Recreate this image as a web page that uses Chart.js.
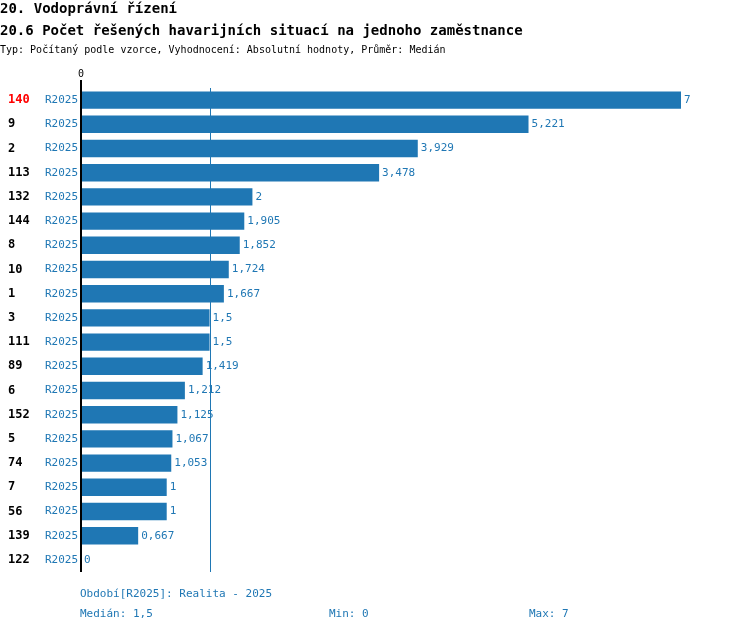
<!DOCTYPE html>
<html>
<head>
<meta charset="utf-8">
<script src="https://cdn.jsdelivr.net/npm/chart.js@4"></script>
<style>
  body { margin: 0; background: #fff; font-family: "DejaVu Sans Mono", monospace; }
  #wrap { position: relative; width: 750px; height: 632px; }
  canvas { position: absolute; left: 0; top: 0; }
  .t { position: absolute; white-space: nowrap; }
  .h { font-size: 14px; font-weight: bold; color: #000; }
  .s { font-size: 10px; color: #000; }
  .f { font-size: 11px; color: #1f77b4; }
</style>
</head>
<body>
<div id="wrap">
  <canvas id="myChart" width="750" height="632"></canvas>
  <div class="t h" style="left:0;top:0px">20. Vodoprávní řízení</div>
  <div class="t h" style="left:0;top:22px">20.6 Počet řešených havarijních situací na jednoho zaměstnance</div>
  <div class="t s" style="left:0;top:44px">Typ: Počítaný podle vzorce, Vyhodnocení: Absolutní hodnoty, Průměr: Medián</div>
  <div class="t f" style="left:80px;top:587px">Období[R2025]: Realita - 2025</div>
  <div class="t f" style="left:80px;top:607px">Medián: 1,5</div>
  <div class="t f" style="left:329px;top:607px">Min: 0</div>
  <div class="t f" style="left:529px;top:607px">Max: 7</div>
</div>
<script>
var codes = ['140','9','2','113','132','144','8','10','1','3','111','89','6','152','5','74','7','56','139','122'];
var period = 'R2025';
var values = [7, 5.221, 3.929, 3.478, 2, 1.905, 1.852, 1.724, 1.667, 1.5, 1.5, 1.419, 1.212, 1.125, 1.067, 1.053, 1, 1, 0.667, 0];
var highlight = '140';
var median = 1.5;
var xMin = 0, xMax = 7;

var blue = '#1f77b4';
var mono = '"DejaVu Sans Mono", monospace';

var labelsPlugin = {
  id: 'labels',
  afterDatasetsDraw: function (chart) {
    var c = chart.ctx, x = chart.scales.x, y = chart.scales.y, a = chart.chartArea;
    c.save();
    // median line
    var mx = Math.round(x.getPixelForValue(median)) + 0.5;
    c.strokeStyle = blue; c.lineWidth = 1;
    c.beginPath(); c.moveTo(mx, a.top); c.lineTo(mx, a.bottom); c.stroke();
    // axis line
    var zx = x.getPixelForValue(0);
    c.strokeStyle = '#000'; c.lineWidth = 2;
    c.beginPath(); c.moveTo(zx, a.top - 8); c.lineTo(zx, a.bottom); c.stroke();
    c.fillStyle = '#000'; c.font = '10px ' + mono;
    c.textAlign = 'center'; c.textBaseline = 'bottom';
    c.fillText('0', zx, a.top - 9);
    c.textBaseline = 'middle';
    codes.forEach(function (code, i) {
      var py = y.getPixelForValue(i);
      c.textAlign = 'left';
      c.font = 'bold 12px ' + mono;
      c.fillStyle = code === highlight ? '#ff0000' : '#000';
      c.fillText(code, 8, py);
      c.font = '11px ' + mono;
      c.fillStyle = blue;
      c.textAlign = 'right';
      c.fillText(period, zx - 3, py);
      c.textAlign = 'left';
      c.fillText(String(values[i]).replace('.', ','), x.getPixelForValue(values[i]) + 3, py);
    });
    c.restore();
  }
};

new Chart(document.getElementById('myChart'), {
  type: 'bar',
  data: {
    labels: codes,
    datasets: [{ data: values, backgroundColor: blue, barPercentage: 0.72, categoryPercentage: 1 }]
  },
  options: {
    indexAxis: 'y',
    responsive: false,
    animation: false,
    layout: { padding: { left: 81, right: 69, top: 88, bottom: 60 } },
    plugins: { legend: { display: false }, tooltip: { enabled: false } },
    scales: {
      x: { display: false, min: xMin, max: xMax },
      y: { display: false }
    }
  },
  plugins: [labelsPlugin]
});
</script>
</body>
</html>
